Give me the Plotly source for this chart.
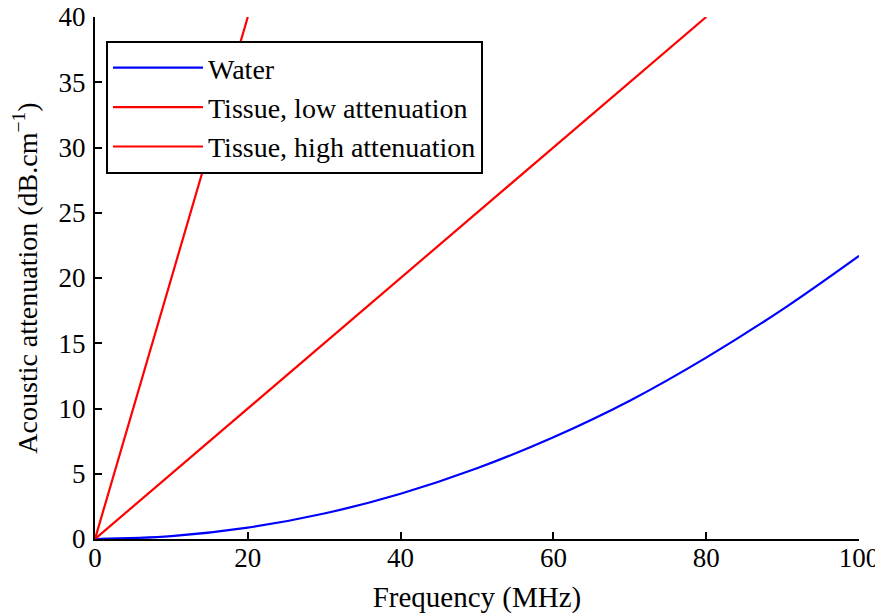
import plotly.graph_objects as go

freq_water = [0, 10, 20, 30, 40, 50, 60, 70, 80, 90, 100]
att_water = [0, 0.22, 0.87, 1.95, 3.47, 5.42, 7.8, 10.6, 13.9, 17.6, 21.7]
freq_low = [0, 80]
att_low = [0, 40]
freq_high = [0, 20]
att_high = [0, 40]

font = "Liberation Serif"
black = "black"

fig = go.Figure()
fig.add_trace(go.Scatter(x=freq_water, y=att_water, mode="lines", name="Water",
                         line=dict(color="#0000ff", width=2.2, shape="spline"), legendgroup="a"))
fig.add_trace(go.Scatter(x=freq_low, y=att_low, mode="lines", name="Tissue, low attenuation",
                         line=dict(color="#ff0000", width=2.2), legendgroup="b"))
fig.add_trace(go.Scatter(x=freq_high, y=att_high, mode="lines", name="Tissue, high attenuation",
                         line=dict(color="#ff0000", width=2.2), legendgroup="c"))

# page body has an 8px margin, so the figure is shrunk to keep the plot area where the reference has it
fig.update_layout(
    width=875, height=606,
    margin=dict(l=87, r=24, t=9, b=75, autoexpand=False),
    plot_bgcolor="white", paper_bgcolor="white",
    font=dict(family=font, size=27, color=black),
    showlegend=True,
    legend=dict(x=0.0144, y=0.954, xanchor="left", yanchor="top",
                bgcolor="white", bordercolor=black, borderwidth=2,
                font=dict(family=font, size=28, color=black), itemwidth=90, tracegroupgap=0,
                traceorder="normal"),
    xaxis=dict(range=[0, 100], tickvals=[0, 20, 40, 60, 80, 100],
               showline=True, linecolor=black, linewidth=2,
               ticks="inside", ticklen=7, tickwidth=2, tickcolor=black,
               showgrid=False, zeroline=False, automargin=False,
               ticklabeloverflow="allow", ticklabelstandoff=-6,
               tickfont=dict(family=font, size=27, color=black),
               title=dict(text="Frequency (MHz)", standoff=18,
                          font=dict(family=font, size=29, color=black))),
    yaxis=dict(range=[0, 40], tickvals=[0, 5, 10, 15, 20, 25, 30, 35, 40],
               showline=True, linecolor=black, linewidth=2,
               ticks="inside", ticklen=7, tickwidth=2, tickcolor=black,
               showgrid=False, zeroline=False, automargin=False,
               ticklabeloverflow="allow", ticklabelstandoff=2,
               tickfont=dict(family=font, size=27, color=black),
               title=dict(text="Acoustic attenuation (dB.cm<sup>\u22121</sup>)", standoff=15,
                          font=dict(family=font, size=28, color=black))),
)

fig.write_html("out.html")
